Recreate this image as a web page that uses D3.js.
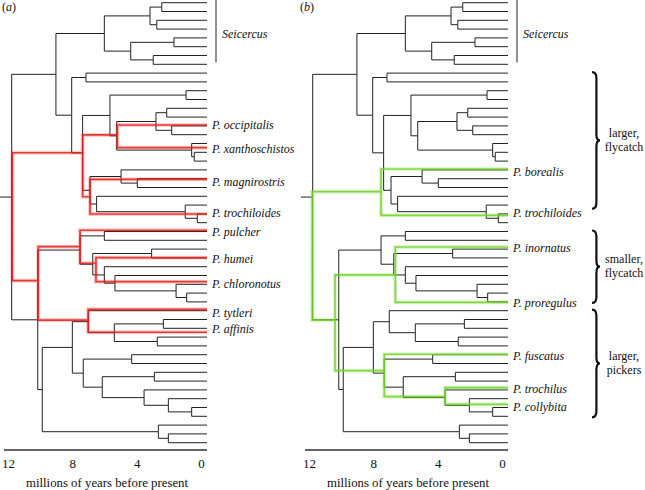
<!DOCTYPE html>
<html><head><meta charset="utf-8">
<script src="https://cdn.jsdelivr.net/npm/d3@7"></script>
<style>body{margin:0;background:#fff}svg{display:block}</style>
</head><body>
<svg id="c" width="645" height="490" font-family="'Liberation Serif', 'Times New Roman', 'DejaVu Serif', serif"></svg>
<script>
// ---------- DATA ----------
const leafCount = 51;                 // leaves L0..L50 (top to bottom)
const tickValues = [12, 8, 4, 0];     // millions of years before present
const axisTitle = "millions of years before present";
const rootStemAge = 12.5;
// black tree: [id, node age (Myr), child, child]
const treeNodes = [
 ["n1",2.44,"L0","L1"],["n2",2.75,"L2","L3"],["n3",3.17,"n1","n2"],
 ["n4",1.68,"L4","L5"],["n5",2.97,"L6","L7"],["n6",4.37,"n4","n5"],["n7",6.01,"n3","n6"],
 ["n8",7.15,"L8","L9"],["n9",0.93,"L10","L11"],["n10",2.13,"L12","L13"],["n11",1.82,"L14","L15"],
 ["n12",2.80,"n10","n11"],["n13",0.42,"L17","L18"],["n14",0.58,"L16","n13"],["n15",5.24,"n12","n14"],
 ["n16",5.66,"n9","n15"],["n18",3.96,"L20","L21"],["n17",4.97,"L19","n18"],["n19",0.23,"L24","L25"],
 ["n20",0.98,"L23","n19"],["n21",6.49,"L22","n20"],["n22",6.90,"n17","n21"],["n23",7.36,"n16","n22"],
 ["n24",8.04,"n8","n23"],["n25",9.02,"n7","n24"],
 ["n26",6.01,"L26","L27"],["n27",3.07,"L28","L29"],["n28",0.89,"L33","L34"],["n29",1.55,"L32","n28"],
 ["n30",5.35,"L31","n29"],["n31",6.01,"L30","n30"],["n32",6.73,"n27","n31"],["n33",7.52,"n26","n32"],
 ["n34",2.34,"L36","L37"],["n35",2.72,"L38","L39"],["n36",5.39,"n34","n35"],["n37",7.01,"L35","n36"],
 ["n38",4.31,"L40","L41"],["n39",2.90,"L42","L43"],["n40",0.58,"L46","L47"],["n41",2.03,"L45","n40"],
 ["n42",3.54,"L44","n41"],["n43",6.14,"n39","n42"],["n44",7.32,"n38","n43"],["n45",8.00,"n37","n44"],
 ["n46",2.03,"L49","L50"],["n47",2.65,"L48","n46"],["n48",9.87,"n45","n47"],["n49",10.15,"n33","n48"],
 ["root",11.77,"n25","n49"]
];
// highlighted tree (a): [id, age, position (leaf units), child, child]
const redClades = [
 ["R0",11.73,24.3,"Ra","Rd"],["Ra",7.36,17.05,"Rb","Rc"],
 ["Rb",5.20,15.03,"P. occipitalis","P. xanthoschistos"],["Rc",6.90,22.05,"P. magnirostris","P. trochiloides"],
 ["Rd",10.12,31.59,"Re","Rg"],["Re",7.52,27.73,"P. pulcher","Rf"],
 ["Rf",6.53,29.61,"P. humei","P. chloronotus"],["Rg",7.01,36.06,"P. tytleri","P. affinis"]
];
const redSpecies = ["P. occipitalis","P. xanthoschistos","P. magnirostris","P. trochiloides","P. pulcher","P. humei","P. chloronotus","P. tytleri","P. affinis"];
const redSpeciesPos = [13.90,16.48,20.07,24.01,25.86,28.98,31.70,34.84,37.45];
const redLabelPos   = [13.90,16.60,20.40,23.90,26.05,29.05,31.95,35.26,37.02];
// highlighted tree (b)
const greenClades = [
 ["G0",11.80,28,"Ga","Gb"],["Ga",7.52,21.48,"P. borealis","P. trochiloides"],
 ["Gb",10.38,36.06,"Gc","Gd"],["Gc",6.63,30.94,"P. inornatus","P. proregulus"],
 ["Gd",7.32,41.82,"P. fuscatus","Ge"],["Ge",3.54,44.77,"P. trochilus","P. collybita"]
];
const greenSpecies = ["P. borealis","P. trochiloides","P. inornatus","P. proregulus","P. fuscatus","P. trochilus","P. collybita"];
const greenSpeciesPos = [18.90,24.16,27.76,34.05,39.95,43.75,45.64];
const greenLabelPos   = [19.25,23.90,27.90,34.05,40.15,43.90,45.95];
// outgroup label
const outgroupName = "Seicercus", outgroupFrom = 0, outgroupTo = 7;
// ecological groups (panel b)
const groupLabels = [["larger,","flycatch"],["smaller,","flycatch"],["larger,","pickers"]];
const groupFrom = [8, 26, 35];
const groupTo = [23.3, 34, 47];

// ---------- SCALES ----------
const x = d3.scaleLinear().domain([12, 0]).range([8, 201]);
const y = d3.scaleLinear().domain([0, leafCount - 1]).range([2.7, 442.7]);
const tipExt = 6;
const FONT = "'Liberation Serif', 'Times New Roman', 'DejaVu Serif', serif";
const svg = d3.select("#c");

// build black tree
const nodeMap = new Map();
for (let i = 0; i < leafCount; i++) nodeMap.set("L" + i, {id: "L" + i, age: 0, y: i, leaf: true});
treeNodes.forEach(n => nodeMap.set(n[0], {id: n[0], age: n[1], kids: n.slice(2)}));
function setY(id) {
  const n = nodeMap.get(id);
  if (n.leaf) return n.y;
  n.y = d3.mean(n.kids, setY);
  return n.y;
}
setY("root");
const blackSegs = [];
treeNodes.forEach(n => {
  const p = nodeMap.get(n[0]);
  p.kids.forEach(k => {
    const c = nodeMap.get(k);
    blackSegs.push(`M${x(p.age)},${y(p.y)}V${y(c.y)}H${c.leaf ? x(0) + tipExt : x(c.age)}`);
  });
});
const rootNode = nodeMap.get("root");
blackSegs.push(`M${x(rootStemAge)},${y(rootNode.y)}H${x(rootNode.age)}`);

function txt(g) {
  return g.append("text").attr("font-family", FONT).attr("fill", "#111");
}

function overlay(g, clades, species, pos, labPos, color) {
  const m = new Map();
  species.forEach((s, i) => m.set(s, {age: 0, y: pos[i], leaf: true}));
  clades.forEach(c => m.set(c[0], {age: c[1], y: c[2], kids: c.slice(3)}));
  let d = "";
  clades.forEach(c => {
    const p = m.get(c[0]);
    p.kids.forEach(k => {
      const ch = m.get(k);
      d += `M${x(p.age)},${y(p.y)}V${y(ch.y)}H${ch.leaf ? x(0) + tipExt : x(ch.age)}`;
    });
  });
  g.append("path").attr("d", d).attr("fill", "none").attr("stroke", color)
    .attr("stroke-width", 4).attr("stroke-opacity", 0.22);
  g.append("path").attr("d", d).attr("fill", "none").attr("stroke", color)
    .attr("stroke-width", 1.7).attr("stroke-opacity", 0.85);
  species.forEach((s, i) => {
    txt(g).attr("x", x(0) + 11).attr("y", y(labPos[i])).attr("dy", "0.35em")
      .attr("font-size", 12).attr("font-style", "italic").text(s);
  });
}

function panel(offset, clades, species, pos, labPos, color) {
  const g = svg.append("g").attr("transform", `translate(${offset},0)`);
  g.append("path").attr("d", blackSegs.join("")).attr("fill", "none")
    .attr("stroke", "#222").attr("stroke-width", 1);
  overlay(g, clades, species, pos, labPos, color);
  // outgroup bar
  g.append("line").attr("x1", x(0) + 15).attr("x2", x(0) + 15)
    .attr("y1", y(outgroupFrom) - 3).attr("y2", y(outgroupTo) - 2)
    .attr("stroke", "#222").attr("stroke-width", 1);
  txt(g).attr("x", x(0) + 21).attr("y", y((outgroupFrom + outgroupTo) / 2)).attr("dy", "0.35em")
    .attr("font-size", 12).attr("font-style", "italic").text(outgroupName);
  // axis
  const ax = g.append("g").attr("transform", "translate(0,450)")
    .call(d3.axisBottom(x).tickValues(tickValues).tickSize(0).tickFormat(d3.format("d")));
  ax.attr("font-family", FONT);
  ax.select(".domain").remove();
  ax.selectAll("text").attr("y", 13).attr("dy", "0.35em").attr("font-size", 13)
    .attr("font-family", FONT).attr("fill", "#111");
  g.append("line").attr("x1", x(12) - 4).attr("x2", x(0) + tipExt).attr("y1", 450).attr("y2", 450)
    .attr("stroke", "#333").attr("stroke-width", 1.3);
  txt(g).attr("x", 107).attr("y", 483).attr("dy", "0.35em").attr("text-anchor", "middle")
    .attr("font-size", 12.8).text(axisTitle);
  return g;
}

panel(0, redClades, redSpecies, redSpeciesPos, redLabelPos, "#e3201b");
const gb = panel(301, greenClades, greenSpecies, greenSpeciesPos, greenLabelPos, "#6fd424");

// panel letters
[["a", 2], ["b", 300]].forEach(([l, px]) => {
  const t = txt(svg).attr("x", px).attr("y", 7).attr("dy", "0.35em").attr("font-size", 12);
  t.append("tspan").text("(");
  t.append("tspan").attr("font-style", "italic").text(l);
  t.append("tspan").text(")");
});

// braces
function bracePath(x0, y1, y2, w) {
  const xm = x0 + w * 0.55, xt = x0 + w, ym = (y1 + y2) / 2, r = 6;
  const p = d3.path();
  p.moveTo(x0, y1);
  p.quadraticCurveTo(xm, y1, xm, y1 + r);
  p.lineTo(xm, ym - r);
  p.quadraticCurveTo(xm, ym, xt, ym);
  p.quadraticCurveTo(xm, ym, xm, ym + r);
  p.lineTo(xm, y2 - r);
  p.quadraticCurveTo(xm, y2, x0, y2);
  return p.toString();
}
groupLabels.forEach((lab, i) => {
  const y1 = y(groupFrom[i]) - 1, y2 = y(groupTo[i]) + 1, ym = (y1 + y2) / 2;
  gb.append("path").attr("d", bracePath(291, y1, y2, 8)).attr("fill", "none")
    .attr("stroke", "#111").attr("stroke-width", 2.2);
  txt(gb).attr("x", 323).attr("y", ym - 8).attr("dy", "0.35em").attr("text-anchor", "middle")
    .attr("font-size", 12).text(lab[0]);
  txt(gb).attr("x", 323).attr("y", ym + 6).attr("dy", "0.35em").attr("text-anchor", "middle")
    .attr("font-size", 12).text(lab[1]);
});
</script>
</body></html>
